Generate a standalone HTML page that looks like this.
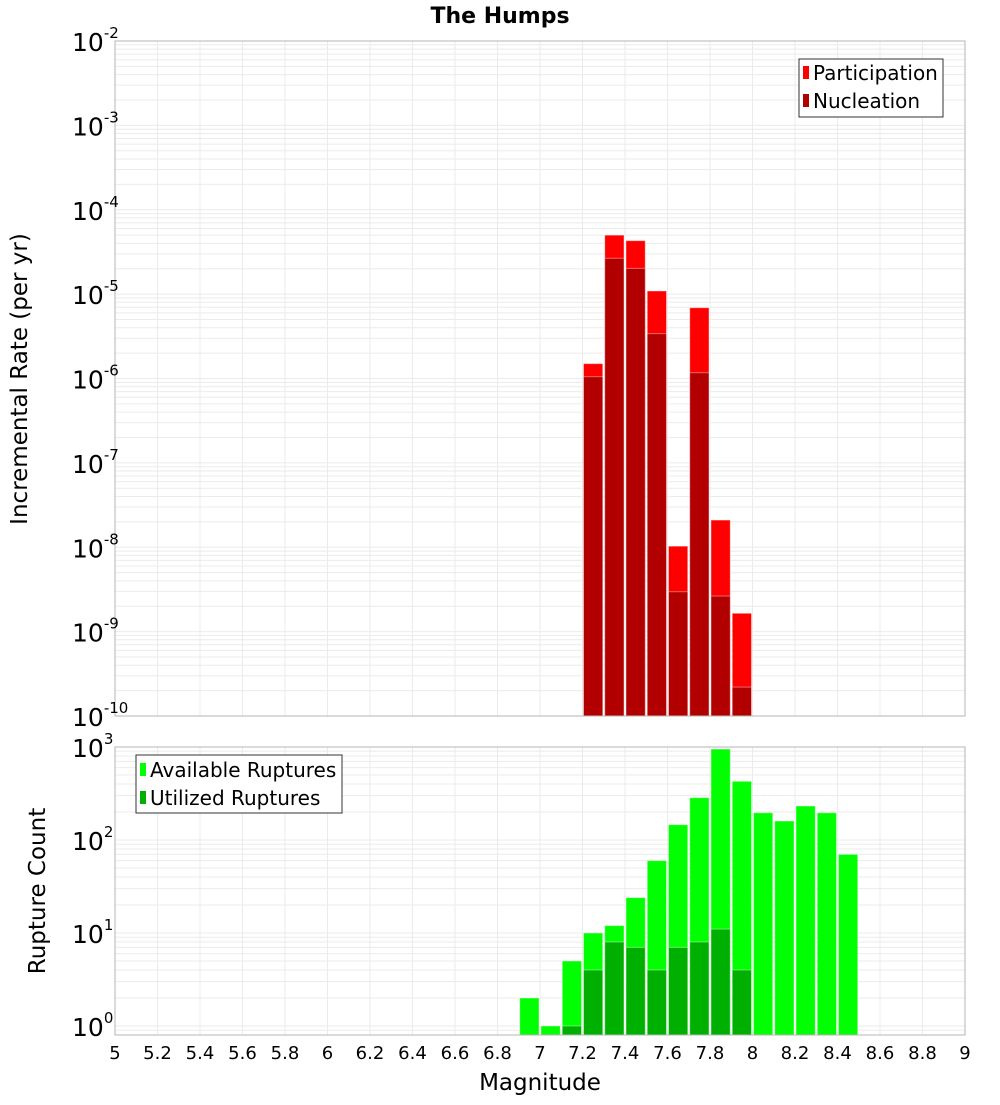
<!DOCTYPE html>
<html><head><meta charset="utf-8"><style>
body{margin:0;background:#fff;font-family:"Liberation Sans","DejaVu Sans",sans-serif}
svg text{font-family:"DejaVu Sans","Liberation Sans",sans-serif}
</style></head><body>
<svg id="c" width="1000" height="1100" xmlns="http://www.w3.org/2000/svg">
<g id="topPanel"></g>
<g id="botPanel"></g>
<text x="500" y="23" text-anchor="middle" font-size="22" font-weight="bold">The Humps</text>
<text transform="translate(27,379) rotate(-90)" text-anchor="middle" font-size="23">Incremental Rate (per yr)</text>
<text transform="translate(45,891) rotate(-90)" text-anchor="middle" font-size="23">Rupture Count</text>
<text x="540" y="1090" text-anchor="middle" font-size="23">Magnitude</text>
<g>
<rect x="799" y="59" width="144" height="58" fill="#fff" stroke="#333"/>
<rect x="803" y="66" width="6" height="13" fill="#ff0000"/><text x="813" y="80" font-size="20">Participation</text>
<rect x="803" y="94" width="6" height="13" fill="#b20000"/><text x="813" y="108" font-size="20">Nucleation</text>
</g>
<g>
<rect x="136" y="755" width="206" height="58" fill="#fff" stroke="#333"/>
<rect x="140" y="763" width="6" height="13" fill="#00ff00"/><text x="150" y="777" font-size="20">Available Ruptures</text>
<rect x="140" y="791" width="6" height="13" fill="#00b000"/><text x="150" y="805" font-size="20">Utilized Ruptures</text>
</g>
</svg>
<script>
const magBins=[7.25,7.35,7.45,7.55,7.65,7.75,7.85,7.95];
const participation=[1.5e-6,5.0e-5,4.3e-5,1.09e-5,1.03e-8,6.9e-6,2.1e-8,1.65e-9];
const nucleation=[1.05e-6,2.66e-5,2.02e-5,3.4e-6,2.97e-9,1.17e-6,2.64e-9,2.2e-10];
const countBins=[6.95,7.05,7.15,7.25,7.35,7.45,7.55,7.65,7.75,7.85,7.95,8.05,8.15,8.25,8.35,8.45];
const available=[2,1,5,10,12,24,60,146,285,950,428,196,160,232,196,70];
const utilized=[0,0,1,4,8,7,4,7,8,11,4,0,0,0,0,0];
const xTicks=[5,5.2,5.4,5.6,5.8,6,6.2,6.4,6.6,6.8,7,7.2,7.4,7.6,7.8,8,8.2,8.4,8.6,8.8,9];
const topExps=[-2,-3,-4,-5,-6,-7,-8,-9,-10];
const botExps=[3,2,1,0];
const NS='http://www.w3.org/2000/svg';
const X0=115,X1=965;
const xs=m=>X0+(m-5)/4*(X1-X0);
const yTop=v=>41+(-2-Math.log10(v))*84.375;
const yBot=v=>1026-Math.log10(v)*93;
function mk(p,t,a){const e=document.createElementNS(NS,t);for(const k in a)e.setAttribute(k,a[k]);p.appendChild(e);return e;}
function panel(g,yt,yb,yf,dmin,dmax){
  for(let d=dmin;d<dmax+1;d++)for(let k=1;k<10;k++){const yy=yf(k*Math.pow(10,d));if(yy<yt-0.5||yy>yb+0.5)continue;
    const l=mk(g,'line',{x1:X0,x2:X1,y1:yy,y2:yy,stroke:'#ebebeb','stroke-width':1});
    
    }
  xTicks.forEach(t=>{const l=mk(g,'line',{x1:xs(t),x2:xs(t),y1:yt,y2:yb,stroke:'#ebebeb','stroke-width':1});
    
    });
}
const gTop=document.getElementById('topPanel'),gBot=document.getElementById('botPanel');
panel(gTop,41,716,yTop,-10,-3);
panel(gBot,747,1035,yBot,-1,2);
const bw=xs(5.1)-xs(5)-2;
function bars(g,bins,vals,yf,yb,fill,name){
  bins.forEach((m,i)=>{if(!(vals[i]>0))return;const yy=yf(vals[i]);
    const r=mk(g,'rect',{x:xs(m-0.05)+1,y:yy,width:bw,height:yb-yy,fill:fill,stroke:'#ffffff','stroke-opacity':0.4,'stroke-width':1});
    
    });
}
bars(gTop,magBins,participation,yTop,716,'#ff0000','participation-bar');
bars(gTop,magBins,nucleation,yTop,716,'#b20000','nucleation-bar');
bars(gBot,countBins,available,yBot,1035,'#00ff00','available-bar');
bars(gBot,countBins,utilized,yBot,1035,'#00b000','utilized-bar');
mk(gTop,'rect',{x:X0,y:41,width:X1-X0,height:675,fill:'none',stroke:'#b4b4b4'});
mk(gBot,'rect',{x:X0,y:747,width:X1-X0,height:288,fill:'none',stroke:'#b4b4b4'});
function ylab(g,e,yy){
  const t=mk(g,'text',{x:72,y:yy+10,'font-size':25});
  
  
  t.appendChild(document.createTextNode('10'));
  const s=mk(t,'tspan',{dy:-13,'font-size':15});s.textContent=String(e);
}
topExps.forEach(e=>ylab(gTop,e,yTop(Math.pow(10,e))));
botExps.forEach(e=>ylab(gBot,e,yBot(Math.pow(10,e))));
xTicks.forEach(t=>{const l=mk(gBot,'text',{x:xs(t),y:1059,'text-anchor':'middle','font-size':18});l.textContent=String(t);
  
  });
</script>
</body></html>
